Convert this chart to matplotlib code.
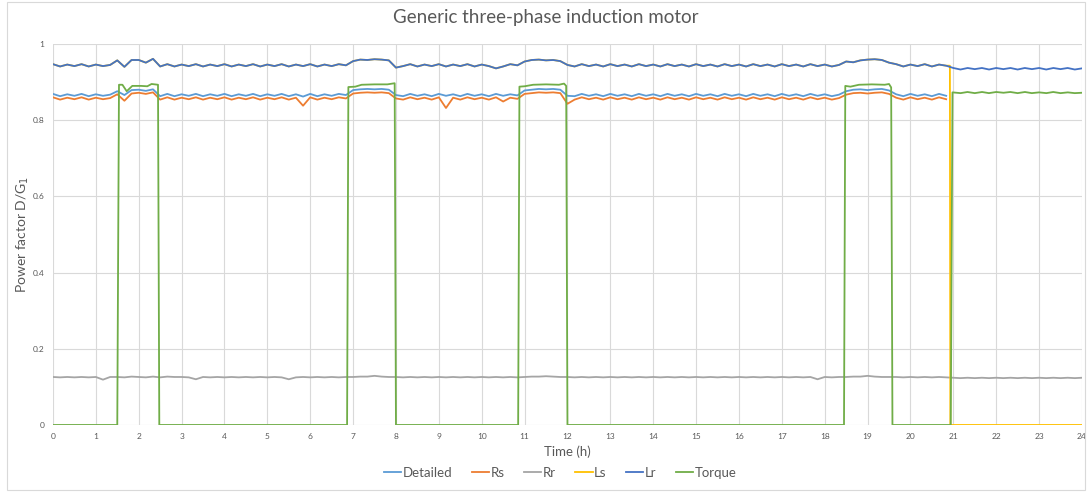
import matplotlib
matplotlib.use("Agg")
import matplotlib.pyplot as plt
import numpy as np

plt.rcParams['font.family'] = ['Lato', 'DejaVu Sans']

nan = np.nan

# 10-minute samples over 24 h
hours = np.linspace(0, 24, 145)

detailed = [
    0.869, 0.863, 0.868, 0.864, 0.869, 0.863, 0.868, 0.864, 0.867,
    0.876, 0.866, 0.879, 0.880, 0.877, 0.881,
    0.863, 0.869, 0.863, 0.868, 0.864, 0.869, 0.863, 0.868, 0.864, 0.869,
    0.863, 0.868, 0.864, 0.869, 0.863, 0.868, 0.864, 0.869, 0.863, 0.868,
    0.862, 0.869, 0.863, 0.868, 0.864, 0.869, 0.866,
    0.879, 0.881, 0.882, 0.881, 0.882, 0.880,
    0.866, 0.863, 0.869, 0.864, 0.868, 0.863, 0.869, 0.864, 0.868, 0.863,
    0.869, 0.864, 0.868, 0.863, 0.869, 0.864, 0.868, 0.865,
    0.878, 0.880, 0.882, 0.881, 0.882, 0.880,
    0.864, 0.863, 0.869, 0.864, 0.868, 0.863, 0.869, 0.864, 0.868, 0.863,
    0.869, 0.864, 0.868, 0.863, 0.869, 0.864, 0.868, 0.863, 0.869, 0.864,
    0.868, 0.863, 0.869, 0.864, 0.868, 0.863, 0.869, 0.864, 0.868, 0.863,
    0.869, 0.864, 0.868, 0.863, 0.869, 0.864, 0.868, 0.863, 0.867,
    0.876, 0.880, 0.881, 0.879, 0.881, 0.882, 0.878,
    0.868, 0.863, 0.869, 0.864, 0.868, 0.863, 0.869, 0.864,
    nan, nan, nan, nan, nan, nan, nan, nan, nan, nan,
    nan, nan, nan, nan, nan, nan, nan, nan, nan,
]

rs = [
    0.860, 0.854, 0.859, 0.855, 0.860, 0.854, 0.859, 0.855, 0.858,
    0.868, 0.851, 0.870, 0.872, 0.869, 0.873,
    0.854, 0.860, 0.854, 0.859, 0.855, 0.860, 0.854, 0.859, 0.855, 0.860,
    0.854, 0.859, 0.855, 0.860, 0.854, 0.859, 0.855, 0.860, 0.854, 0.859,
    0.838, 0.860, 0.854, 0.859, 0.855, 0.860, 0.857,
    0.870, 0.872, 0.873, 0.872, 0.873, 0.871,
    0.857, 0.854, 0.860, 0.855, 0.859, 0.854, 0.860, 0.832, 0.859, 0.854,
    0.860, 0.855, 0.859, 0.854, 0.860, 0.849, 0.859, 0.856,
    0.869, 0.871, 0.873, 0.872, 0.873, 0.871,
    0.843, 0.854, 0.860, 0.855, 0.859, 0.854, 0.860, 0.855, 0.859, 0.854,
    0.860, 0.855, 0.859, 0.854, 0.860, 0.855, 0.859, 0.854, 0.860, 0.855,
    0.859, 0.854, 0.860, 0.855, 0.859, 0.854, 0.860, 0.855, 0.859, 0.854,
    0.860, 0.855, 0.859, 0.854, 0.860, 0.855, 0.859, 0.854, 0.858,
    0.867, 0.871, 0.872, 0.870, 0.872, 0.873, 0.869,
    0.859, 0.854, 0.860, 0.855, 0.859, 0.854, 0.860, 0.855,
    nan, nan, nan, nan, nan, nan, nan, nan, nan, nan,
    nan, nan, nan, nan, nan, nan, nan, nan, nan,
]

rr = [
    0.126, 0.125, 0.126, 0.125, 0.126, 0.125, 0.126, 0.119, 0.126,
    0.126, 0.125, 0.127, 0.126, 0.125, 0.127,
    0.125, 0.127, 0.126, 0.126, 0.125, 0.120, 0.126, 0.125, 0.126, 0.125,
    0.126, 0.125, 0.126, 0.125, 0.126, 0.125, 0.126, 0.125, 0.120, 0.125,
    0.126, 0.125, 0.126, 0.125, 0.126, 0.125, 0.126,
    0.126, 0.127, 0.127, 0.129, 0.127, 0.126,
    0.126, 0.125, 0.126, 0.125, 0.126, 0.125, 0.126, 0.125, 0.126, 0.125,
    0.126, 0.125, 0.126, 0.125, 0.126, 0.125, 0.126, 0.125,
    0.126, 0.127, 0.127, 0.128, 0.127, 0.126,
    0.126, 0.125, 0.126, 0.125, 0.126, 0.125, 0.126, 0.125, 0.126, 0.125,
    0.126, 0.125, 0.126, 0.125, 0.126, 0.125, 0.126, 0.125, 0.126, 0.125,
    0.126, 0.125, 0.126, 0.125, 0.126, 0.125, 0.126, 0.125, 0.126, 0.125,
    0.126, 0.125, 0.126, 0.125, 0.126, 0.120, 0.126, 0.125, 0.126,
    0.126, 0.127, 0.127, 0.129, 0.127, 0.126, 0.126,
    0.126, 0.125, 0.126, 0.125, 0.126, 0.125, 0.126, 0.125,
    0.124, 0.123, 0.124, 0.123, 0.124, 0.123, 0.124, 0.123, 0.124, 0.123,
    0.124, 0.123, 0.124, 0.123, 0.124, 0.123, 0.124, 0.123, 0.124,
]

lr = [
    0.947, 0.941, 0.946, 0.942, 0.947, 0.941, 0.946, 0.942, 0.945,
    0.957, 0.940, 0.958, 0.958, 0.951, 0.961,
    0.941, 0.947, 0.941, 0.946, 0.942, 0.947, 0.941, 0.946, 0.942, 0.947,
    0.941, 0.946, 0.942, 0.947, 0.941, 0.946, 0.942, 0.947, 0.941, 0.946,
    0.942, 0.947, 0.941, 0.946, 0.942, 0.947, 0.944,
    0.955, 0.959, 0.958, 0.960, 0.959, 0.957,
    0.938, 0.942, 0.947, 0.941, 0.946, 0.942, 0.947, 0.941, 0.946, 0.942,
    0.947, 0.941, 0.946, 0.942, 0.936, 0.941, 0.947, 0.944,
    0.954, 0.958, 0.959, 0.957, 0.958, 0.955,
    0.945, 0.941, 0.947, 0.942, 0.946, 0.941, 0.947, 0.942, 0.946, 0.941,
    0.947, 0.942, 0.946, 0.941, 0.947, 0.942, 0.946, 0.941, 0.947, 0.942,
    0.946, 0.941, 0.947, 0.942, 0.946, 0.941, 0.947, 0.942, 0.946, 0.941,
    0.947, 0.942, 0.946, 0.941, 0.947, 0.942, 0.946, 0.941, 0.945,
    0.954, 0.952, 0.957, 0.959, 0.960, 0.958, 0.951,
    0.947, 0.941, 0.946, 0.942, 0.947, 0.941, 0.946, 0.943,
    0.937, 0.933, 0.937, 0.934, 0.937, 0.933, 0.937, 0.934, 0.937, 0.933,
    0.937, 0.934, 0.937, 0.933, 0.937, 0.934, 0.937, 0.933, 0.936,
]

# Ls follows Lr until it fails just before 21 h
ls_fail_hour = 20.93

torque_hours = [
    0.0, 1.50, 1.54, 1.62, 1.72, 1.85, 2.05, 2.20, 2.30, 2.45, 2.48,
    6.86, 6.89, 7.05, 7.20, 7.50, 7.80, 7.97, 8.00,
    10.85, 10.88, 11.00, 11.20, 11.50, 11.80, 11.92, 11.97, 12.00,
    18.45, 18.48, 18.60, 18.80, 19.10, 19.40, 19.50, 19.55, 19.58,
    20.94, 20.98, 21.17, 21.33, 21.50, 21.67, 21.83, 22.00, 22.17, 22.33,
    22.50, 22.67, 22.83, 23.00, 23.17, 23.33, 23.50, 23.67, 23.83, 24.00,
]
torque = [
    0.0, 0.0, 0.893, 0.893, 0.876, 0.890, 0.890, 0.889, 0.895, 0.893, 0.0,
    0.0, 0.887, 0.888, 0.893, 0.894, 0.894, 0.897, 0.0,
    0.0, 0.888, 0.889, 0.893, 0.894, 0.893, 0.896, 0.890, 0.0,
    0.0, 0.890, 0.888, 0.893, 0.894, 0.893, 0.895, 0.886, 0.0,
    0.0, 0.873, 0.871, 0.874, 0.871, 0.874, 0.871, 0.874, 0.872, 0.874,
    0.871, 0.874, 0.871, 0.873, 0.871, 0.874, 0.871, 0.873, 0.871, 0.872,
]

colors = {
    'Detailed': '#5B9BD5', 'Rs': '#ED7D31', 'Rr': '#A5A5A5',
    'Ls': '#FFC000', 'Lr': '#4472C4', 'Torque': '#70AD47',
}
text_color = '#595959'

fig = plt.figure(figsize=(10.92, 4.92), dpi=100)
fig.patches.append(plt.Rectangle((0.006, 0.004), 0.988, 0.992, transform=fig.transFigure,
                                 fill=False, edgecolor='#d9d9d9', linewidth=0.8))
ax = fig.add_axes([0.0485, 0.1362, 0.9423, 0.7744])

n_ls = int(np.searchsorted(hours, ls_fail_hour))
ls_hours = list(hours[:n_ls]) + [ls_fail_hour - 0.01, ls_fail_hour, 24.0]
ls_values = lr[:n_ls] + [lr[n_ls - 1], 0.0, 0.0]

lw = 1.3
ax.plot(hours, detailed, color=colors['Detailed'], lw=lw, label='Detailed')
ax.plot(hours, rs, color=colors['Rs'], lw=lw, label='Rs')
ax.plot(hours, rr, color=colors['Rr'], lw=lw, label='Rr')
ax.plot(ls_hours, ls_values, color=colors['Ls'], lw=lw, label='Ls')
ax.plot(hours, lr, color=colors['Lr'], lw=lw, label='Lr')
ax.plot(torque_hours, torque, color=colors['Torque'], lw=lw, label='Torque')

ax.set_xlim(0, 24)
ax.set_ylim(0, 1)
ax.set_xticks(range(0, 25))
ax.set_yticks([0, 0.2, 0.4, 0.6, 0.8, 1.0])
ax.set_yticklabels(['0', '0.2', '0.4', '0.6', '0.8', '1'])
ax.grid(True, color='#d9d9d9', lw=0.8)
ax.set_axisbelow(True)
for s in ax.spines.values():
    s.set_visible(False)
ax.tick_params(length=0, labelsize=6, labelcolor=text_color, pad=6)

ax.set_xlabel('Time (h)', fontsize=9.5, color=text_color, labelpad=4)
ax.set_ylabel('Power factor D/G$_1$', fontsize=10, color=text_color)
ax.yaxis.set_label_coords(-0.0215, 0.5)
fig.text(0.5, 1 - 18 / 492, 'Generic three-phase induction motor',
         ha='center', va='center', fontsize=13.5, color=text_color)

fig.legend(loc='center', bbox_to_anchor=(0.513, 0.039), ncol=6, frameon=False,
           handlelength=1.3, handletextpad=0.1, columnspacing=1.5,
           fontsize=9.5, labelcolor=text_color)

fig.savefig('out.png', dpi=100)
